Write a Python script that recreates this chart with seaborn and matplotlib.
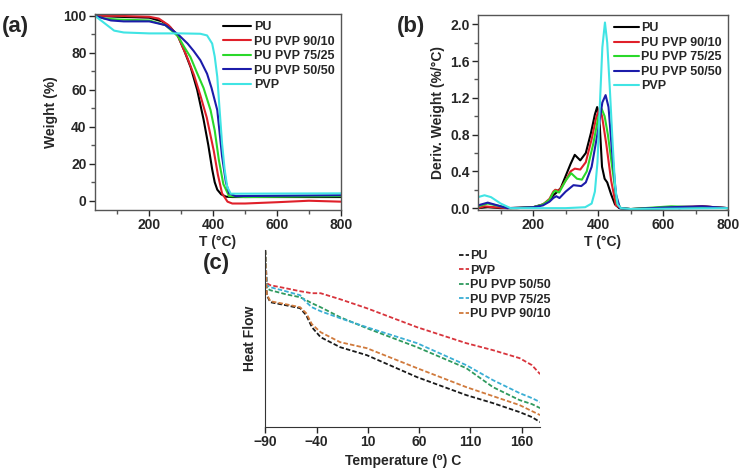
import numpy as np
import pandas as pd
import seaborn as sns
import matplotlib.pyplot as plt
from matplotlib.ticker import MultipleLocator

# ---- (a) TGA ----
tga_labels = ["PU", "PU PVP 90/10", "PU PVP 75/25", "PU PVP 50/50", "PVP"]
tga_colors = ["#000000", "#e0202a", "#2ad82a", "#1c1caa", "#40e4e4"]

pu_t = [30, 100, 200, 240, 265, 290, 310, 330, 350, 370, 385, 397, 405, 413, 425, 440, 460, 600, 800]
pu_w = [100, 99.5, 99, 97, 94, 89, 81, 72, 60, 44, 30, 17, 10, 6, 3.5, 2.2, 2, 2, 2]
r90_t = [30, 100, 200, 230, 260, 290, 320, 340, 360, 380, 402, 415, 428, 445, 460, 500, 600, 700, 800]
r90_w = [100, 100, 99.5, 98.5, 95, 89, 77, 68, 57, 45, 27, 14, 4, -0.5, -1.5, -1.5, -0.8, 0, -0.5]
r75_t = [30, 60, 100, 200, 250, 290, 310, 329, 350, 370, 392, 405, 418, 432, 450, 500, 800]
r75_w = [100, 98.5, 98, 97.5, 95, 89, 83, 77.7, 69, 61, 49, 38, 22, 9, 2.5, 2, 2.5]
r50_t = [30, 80, 120, 200, 250, 290, 320, 339, 360, 381, 395, 413, 428, 440, 450, 470, 800]
r50_w = [100, 97.5, 97, 97, 95, 90, 85, 81, 76, 68.7, 61, 49, 24, 10, 4, 2.5, 3]
pvp_t = [30, 60, 90, 120, 200, 300, 360, 381, 397, 405, 413, 420, 428, 436, 444, 455, 800]
pvp_w = [100, 96, 92, 91, 90.5, 90.5, 90.3, 89.4, 85, 78, 67, 50, 31, 17, 7.6, 3.8, 4]

# ---- (b) DTG ----
d_pu_t = [30, 60, 100, 150, 200, 230, 250, 262, 272, 285, 300, 315, 328, 345, 362, 378, 390, 397, 405, 412, 420, 428, 440, 452, 465, 500, 600, 625, 650, 720, 800]
d_pu = [0.0, 0.01, 0.0, 0.0, 0.01, 0.04, 0.08, 0.14, 0.17, 0.22, 0.35, 0.48, 0.58, 0.52, 0.6, 0.82, 1.02, 1.10, 0.9, 0.45, 0.32, 0.28, 0.15, 0.04, 0.0, -0.01, 0.0, 0.01, 0.0, 0.02, 0.0]
d_90_t = [30, 50, 80, 120, 200, 230, 250, 262, 268, 280, 300, 315, 328, 345, 362, 380, 395, 405, 412, 425, 440, 455, 470, 500, 625, 720, 800]
d_90 = [0.0, 0.02, 0.01, 0.0, 0.01, 0.04, 0.1, 0.18, 0.2, 0.19, 0.3, 0.4, 0.43, 0.42, 0.5, 0.75, 1.0, 1.09, 1.0, 0.7, 0.3, 0.03, 0.0, -0.01, 0.01, 0.02, 0.0]
d_75_t = [30, 60, 100, 130, 200, 230, 250, 262, 268, 280, 300, 317, 335, 350, 365, 385, 400, 411, 420, 430, 445, 458, 470, 500, 625, 720, 800]
d_75 = [0.02, 0.05, 0.02, 0.0, 0.01, 0.04, 0.09, 0.17, 0.19, 0.17, 0.3, 0.38, 0.32, 0.31, 0.4, 0.7, 0.98, 1.08, 1.0, 0.8, 0.4, 0.06, 0.0, -0.01, 0.02, 0.01, 0.0]
d_50_t = [30, 60, 90, 120, 200, 230, 250, 262, 271, 281, 300, 324, 348, 362, 380, 400, 413, 423, 432, 442, 455, 467, 500, 625, 720, 800]
d_50 = [0.03, 0.06, 0.03, 0.0, 0.01, 0.03, 0.07, 0.11, 0.13, 0.11, 0.18, 0.25, 0.24, 0.28, 0.45, 0.85, 1.15, 1.23, 1.1, 0.65, 0.15, 0.0, -0.01, 0.01, 0.02, 0.0]
d_pvp_t = [30, 50, 70, 100, 130, 200, 300, 360, 380, 390, 398, 405, 413, 421, 428, 436, 444, 452, 460, 470, 500, 800]
d_pvp = [0.12, 0.14, 0.12, 0.05, 0.0, 0.0, 0.0, 0.01, 0.05, 0.18, 0.5, 1.1, 1.75, 2.02, 1.8, 1.3, 0.75, 0.25, 0.04, 0.0, -0.01, 0.0]

# ---- (c) DSC ----
dsc_labels = ["PU", "PVP", "PU PVP 50/50", "PU PVP 75/25", "PU PVP 90/10"]
dsc_colors = ["#1a1a1a", "#d8343c", "#2f9a5e", "#3aaed4", "#d07a3c"]
dsc_t = [-90, -88.5, -85, -70, -56, -50, -44.5, -36, -17, 9, 58, 106, 132, 158, 170, 178]
hf_pu = [17.7, 13.2, 12.5, 12.2, 11.9, 11.2, 10.0, 9.0, 8.0, 7.2, 5.0, 3.2, 2.4, 1.5, 1.0, 0.5]
hf_pvp = [17.7, 14.4, 14.2, 13.9, 13.6, 13.5, 13.4, 13.4, 12.8, 11.9, 10.0, 8.4, 7.7, 6.9, 6.2, 5.3]
hf_50 = [17.7, 13.9, 13.7, 13.3, 13.0, 12.7, 12.4, 12.0, 11.0, 9.9, 8.0, 5.9, 4.0, 2.7, 2.3, 1.9]
hf_75 = [17.7, 14.2, 14.0, 13.6, 13.2, 12.5, 12.0, 11.6, 10.9, 10.0, 8.4, 6.2, 4.7, 3.4, 2.9, 2.5]
hf_90 = [17.7, 13.3, 12.6, 12.3, 12.0, 11.4, 10.3, 9.5, 8.5, 7.9, 5.9, 4.0, 3.1, 2.2, 1.6, 1.2]

sns.set_style("ticks")
plt.rcParams["font.family"] = ["Liberation Sans", "DejaVu Sans"]
plt.rcParams["font.weight"] = "bold"
plt.rcParams["axes.labelweight"] = "bold"

fig = plt.figure(figsize=(7.45, 4.74), dpi=100)
ax_a = fig.add_axes([0.1275, 0.557, 0.330, 0.4135])
ax_b = fig.add_axes([0.6416, 0.557, 0.3356, 0.411])
ax_c = fig.add_axes([0.356, 0.099, 0.369, 0.373])

tga = pd.concat([
    pd.DataFrame({"T": t, "W": w, "s": lab})
    for t, w, lab in zip([pu_t, r90_t, r75_t, r50_t, pvp_t],
                         [pu_w, r90_w, r75_w, r50_w, pvp_w], tga_labels)
])
dtg = pd.concat([
    pd.DataFrame({"T": t, "D": d, "s": lab})
    for t, d, lab in zip([d_pu_t, d_90_t, d_75_t, d_50_t, d_pvp_t],
                         [d_pu, d_90, d_75, d_50, d_pvp], tga_labels)
])
dsc = pd.concat([
    pd.DataFrame({"T": dsc_t, "H": h, "s": lab})
    for h, lab in zip([hf_pu, hf_pvp, hf_50, hf_75, hf_90], dsc_labels)
])

pal = dict(zip(tga_labels, tga_colors))
sns.lineplot(data=tga, x="T", y="W", hue="s", palette=pal, estimator=None,
             sort=False, lw=1.5, ax=ax_a)
sns.lineplot(data=dtg, x="T", y="D", hue="s", palette=pal, estimator=None,
             sort=False, lw=1.5, ax=ax_b)
sns.lineplot(data=dsc, x="T", y="H", hue="s", palette=dict(zip(dsc_labels, dsc_colors)),
             estimator=None, sort=False, lw=1.3, ax=ax_c)
for line in ax_c.get_lines():
    line.set_linestyle((0, (2.5, 1.2)))

for ax in (ax_a, ax_b):
    ax.set_xlim(30, 800)
    ax.xaxis.set_major_locator(MultipleLocator(200))
    ax.xaxis.set_minor_locator(MultipleLocator(100))
    ax.set_xlabel("T (°C)", fontsize=10, labelpad=2)
    for sp in ax.spines.values():
        sp.set_color("#555555")
        sp.set_linewidth(1.0)
    ax.tick_params(which="major", length=4, width=1, labelsize=10, pad=2)
    ax.tick_params(which="minor", length=3, width=1, color="#555555")
    for lab in ax.get_xticklabels() + ax.get_yticklabels():
        lab.set_fontweight("bold")

ax_a.legend(frameon=False, loc="upper right", bbox_to_anchor=(1.0, 0.995),
            handlelength=2.3, handletextpad=0.2, labelspacing=0.2, borderaxespad=0.1,
            prop={"weight": "bold", "size": 9})
ax_b.legend(frameon=False, loc="upper right", bbox_to_anchor=(1.0, 0.995),
            handlelength=2.0, handletextpad=0.2, labelspacing=0.2, borderaxespad=0.1,
            prop={"weight": "bold", "size": 9})

ax_a.set_ylim(-5, 101)
ax_a.set_xticks([200, 400, 600, 800])
ax_a.yaxis.set_major_locator(MultipleLocator(20))
ax_a.yaxis.set_minor_locator(MultipleLocator(10))
ax_a.set_ylabel("Weight (%)", fontsize=10, labelpad=4)

ax_b.set_ylim(-0.02, 2.1)
ax_b.yaxis.set_minor_locator(MultipleLocator(0.2))
ax_b.set_yticks([0.0, 0.4, 0.8, 1.2, 1.6, 2.0])
ax_b.set_yticklabels(["0.0", "0.4", "0.8", "1.2", "1.6", "2.0"], fontweight="bold")
ax_b.set_ylabel("Deriv. Weight (%/°C)", fontsize=10, labelpad=4)

sns.despine(ax=ax_c)
ax_c.set_xlim(-90, 178)
ax_c.set_ylim(0, 17.7)
ax_c.set_xticks([-90, -40, 10, 60, 110, 160])
ax_c.set_yticks([])
ax_c.spines["left"].set_color("#333333")
ax_c.spines["bottom"].set_color("#333333")
ax_c.tick_params(axis="x", length=4, width=1, labelsize=10, pad=2)
for lab in ax_c.get_xticklabels():
    lab.set_fontweight("bold")
ax_c.set_xlabel("Temperature (⁰) C", fontsize=10, labelpad=3)
ax_c.set_ylabel("Heat Flow", fontsize=10, labelpad=6)
ax_c.legend(frameon=False, loc="upper left", bbox_to_anchor=(0.665, 1.065),
            handlelength=0.8, handletextpad=0.05, labelspacing=0.2,
            prop={"weight": "bold", "size": 9})

fig.text(0.003, 0.945, "(a)", fontsize=16, fontweight="bold", va="center")
fig.text(0.533, 0.945, "(b)", fontsize=16, fontweight="bold", va="center")
fig.text(0.272, 0.445, "(c)", fontsize=16, fontweight="bold", va="center")

fig.savefig("out.png", dpi=100)
